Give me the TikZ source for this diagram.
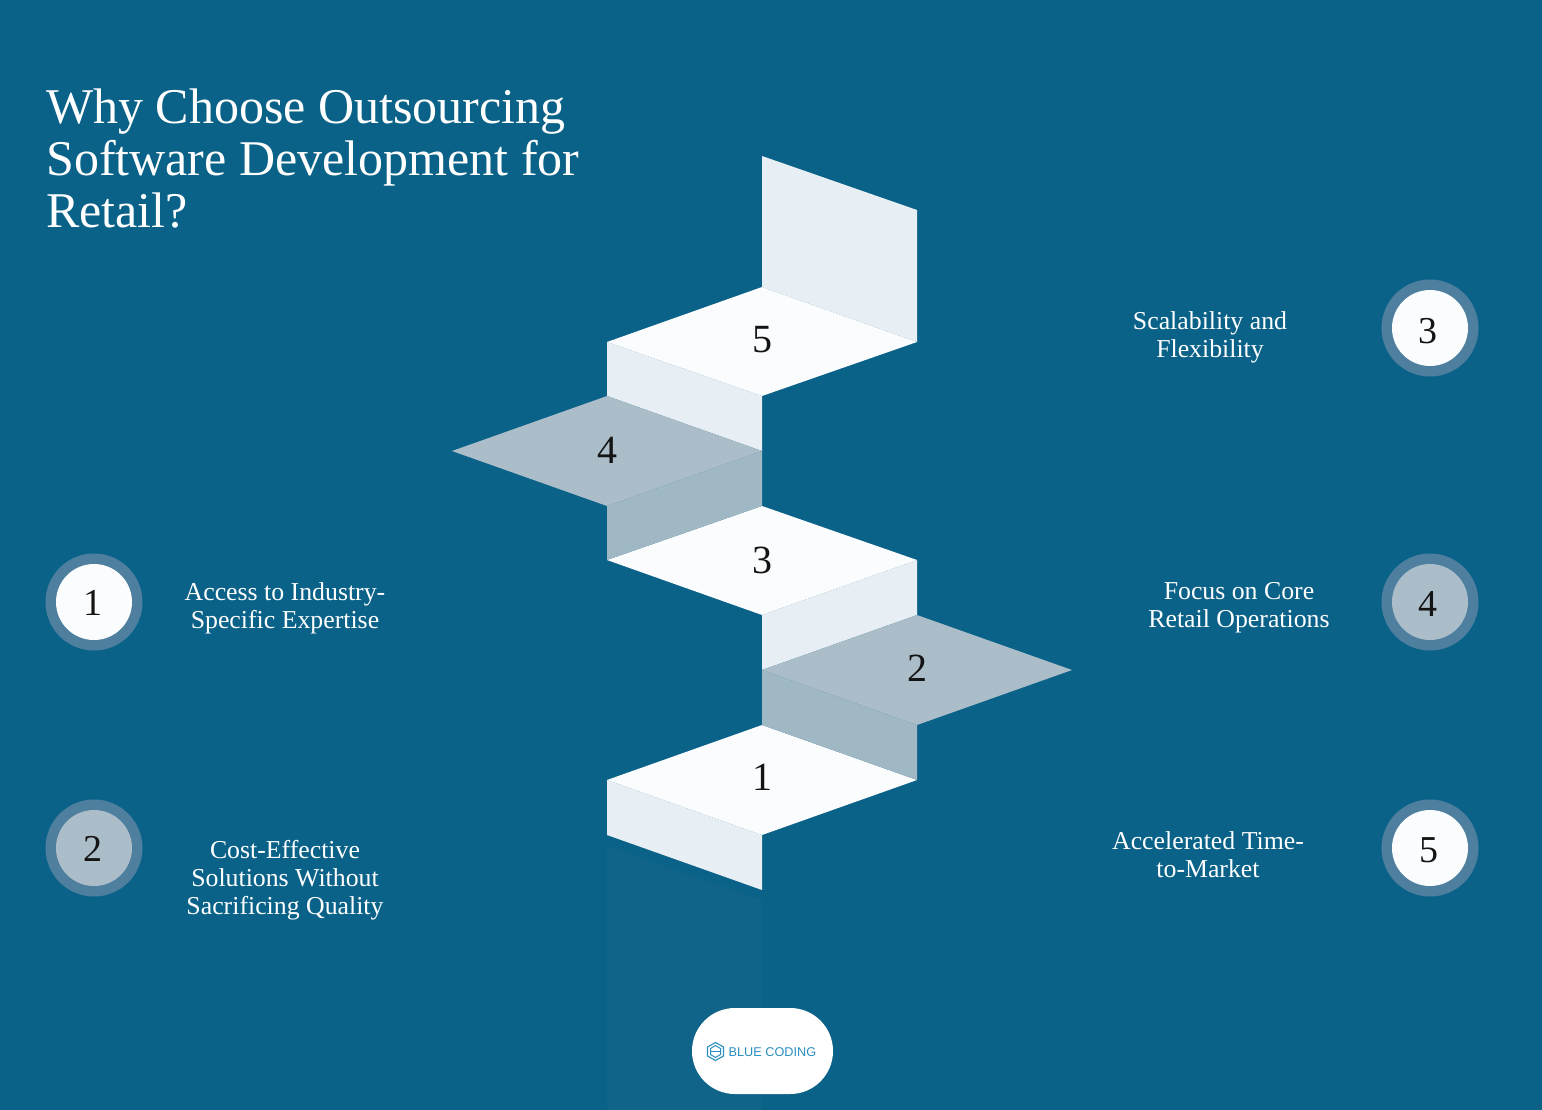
\documentclass[tikz,border=0pt]{standalone}
\usepackage{fontspec}
\setmainfont{Liberation Serif}
\newfontfamily\logofont{Liberation Sans}
\definecolor{bgblue}{HTML}{0A6289}
\definecolor{shadowblue}{HTML}{106389}
\definecolor{ringblue}{HTML}{4F7F9F}
\definecolor{topwhite}{HTML}{FBFCFD}
\definecolor{riserlight}{HTML}{E8EFF4}
\definecolor{topgray}{HTML}{ABBDC8}
\definecolor{risergray}{HTML}{A0B7C4}
\definecolor{ringgray}{HTML}{ABBDC8}
\definecolor{logoblue}{HTML}{2A8FBF}
\definecolor{numink}{HTML}{141414}
\tikzset{
  toplight/.style={fill=topwhite},
  topdark/.style={fill=topgray},
  riselight/.style={fill=riserlight},
  risedark/.style={fill=risergray},
  stepnum/.style={font=\fontsize{40}{40}\selectfont,text=numink,inner sep=0pt},
  circnum/.style={font=\fontsize{38}{38}\selectfont,text=numink,inner sep=0pt},
  ringdisc/.style={circle,fill=ringblue,minimum size=97pt,inner sep=0pt},
  label/.style={font=\fontsize{25.8}{27.7}\selectfont,text=white,align=center,inner sep=0pt},
}
\begin{document}
\begin{tikzpicture}[x=1pt,y=-1pt]
\useasboundingbox (0,0) rectangle (1542,1110);
\fill[bgblue] (0,0) rectangle (1542,1110);
% reflection
\fill[shadowblue] (607,846) -- (762,900) -- (762,1110) -- (607,1110) -- cycle;
% staircase
\fill[riselight] (762,156) -- (917,210) -- (917,342) -- (762,287) -- cycle;
\fill[riselight] (607,780) -- (762,835) -- (762,890) -- (607,835) -- cycle;
\fill[toplight] (607,780) -- (762,725) -- (917,780) -- (762,835) -- cycle;
\fill[risedark] (762,670) -- (917,725) -- (917,780) -- (762,725) -- cycle;
\fill[riselight] (762,615) -- (917,560) -- (917,615) -- (762,670) -- cycle;
\fill[topdark] (762,670) -- (917,615) -- (1072,670) -- (917,725) -- cycle;
\fill[toplight] (607,560) -- (762,506) -- (917,560) -- (762,615) -- cycle;
\fill[risedark] (607,506) -- (762,451) -- (762,506) -- (607,560) -- cycle;
\fill[riselight] (607,342) -- (762,396) -- (762,451) -- (607,396) -- cycle;
\fill[topdark] (452,451) -- (607,396) -- (762,451) -- (607,506) -- cycle;
\fill[toplight] (607,342) -- (762,287) -- (917,342) -- (762,396) -- cycle;
% step numbers
\node[stepnum] (s5) at (762,340) {5};
\node[stepnum] (s4) at (607,450) {4};
\node[stepnum] (s3) at (762,560) {3};
\node[stepnum] (s2) at (917,668) {2};
\node[stepnum] (s1) at (762,777) {1};
% title
\node[anchor=north west,inner sep=0pt,align=left,text=white,font=\fontsize{50}{52}\selectfont] (title) at (46,89) {Why Choose Outsourcing\\Software Development for\\Retail?};
% left items
\node[ringdisc] (r1) at (94,602) {};
\node[circle,fill=topwhite,minimum size=76pt,inner sep=0pt] (d1) at (94,602) {};
\node[circnum] (n1) at (93,603) {1};
\node[label] (t1) at (285,608.5) {Access to Industry-\\Specific Expertise};
\node[ringdisc] (r2) at (94,848) {};
\node[circle,fill=ringgray,minimum size=76pt,inner sep=0pt] (d2) at (94,848) {};
\node[circnum] (n2) at (93,849) {2};
\node[label] (t2) at (285,880) {Cost-Effective\\Solutions Without\\Sacrificing Quality};
% right items
\node[ringdisc] (r3) at (1430,328) {};
\node[circle,fill=topwhite,minimum size=76pt,inner sep=0pt] (d3) at (1430,328) {};
\node[circnum] (n3) at (1428,331) {3};
\node[label] (t3) at (1210,337) {Scalability and\\Flexibility};
\node[ringdisc] (r4) at (1430,602) {};
\node[circle,fill=ringgray,minimum size=76pt,inner sep=0pt] (d4) at (1430,602) {};
\node[circnum] (n4) at (1428,604) {4};
\node[label] (t4) at (1239,608) {Focus on Core\\Retail Operations};
\node[ringdisc] (r5) at (1430,848) {};
\node[circle,fill=topwhite,minimum size=76pt,inner sep=0pt] (d5) at (1430,848) {};
\node[circnum] (n5) at (1429,850) {5};
\node[label] (t5) at (1208,855) {Accelerated Time-\\to-Market};
% logo
\node[fill=white,rounded corners=42.9pt,minimum width=141pt,minimum height=86pt,inner sep=0pt] (logo) at (762.5,1051) {};
\draw[logoblue,line width=1.1pt] (715.5,1042.5) -- (723.5,1047) -- (723.5,1056) -- (715.5,1060.5) -- (707.5,1056) -- (707.5,1047) -- cycle;
\draw[logoblue,line width=1pt] (715.5,1045.5) -- (720.5,1048.5) -- (720.5,1054.5) -- (715.5,1057.5) -- (710.5,1054.5) -- (710.5,1048.5) -- cycle;
\draw[logoblue,line width=.9pt] (710.5,1051.5) -- (720.5,1051.5);
\node[anchor=west,inner sep=0pt,text=logoblue,font=\logofont\fontsize{12.7}{14}\selectfont] (logotext) at (728.5,1052) {BLUE CODING};
\end{tikzpicture}
\end{document}
